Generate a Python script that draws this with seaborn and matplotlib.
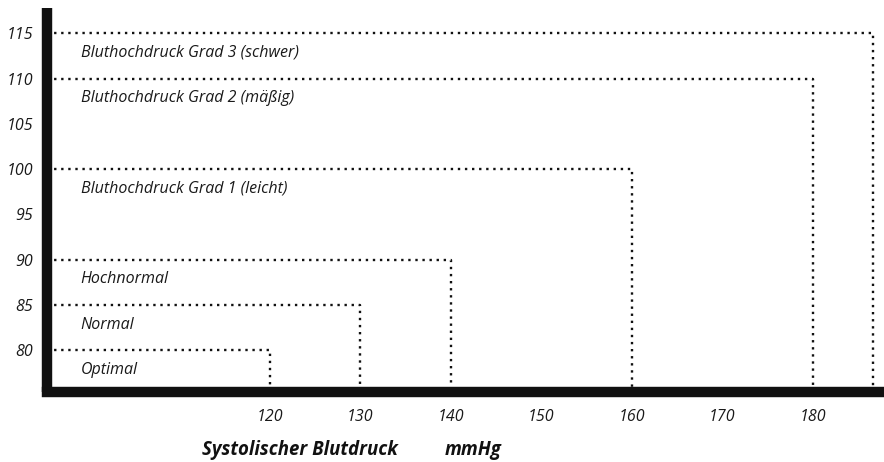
import matplotlib.pyplot as plt
import pandas as pd
import seaborn as sns

# Blood pressure categories (upper limits)
categories = ["Optimal", "Normal", "Hochnormal",
              "Bluthochdruck Grad 1 (leicht)",
              "Bluthochdruck Grad 2 (mäßig)",
              "Bluthochdruck Grad 3 (schwer)"]
systolic = [120, 130, 140, 160, 180, 186.7]
diastolic = [80, 85, 90, 100, 110, 115]
x_ticks = [120, 130, 140, 150, 160, 170, 180]
y_ticks = [80, 85, 90, 95, 100, 105, 110, 115]

x_lim = (95.4, 187.9)
y_lim = (75.4, 117.8)

sns.set_style("white")
plt.rcParams['font.family'] = ['Open Sans', 'DejaVu Sans']

# build step outlines: from left edge along the diastolic level, then down
rows = []
for cat, sx, dy in zip(categories, systolic, diastolic):
    rows.append({'cat': cat, 'order': 0, 'x': x_lim[0], 'y': dy})
    rows.append({'cat': cat, 'order': 1, 'x': sx, 'y': dy})
    rows.append({'cat': cat, 'order': 2, 'x': sx, 'y': y_lim[0]})
df = pd.DataFrame(rows)

fig = plt.figure(figsize=(8.84, 4.62), dpi=100)
ax = fig.add_axes([0.0532, 0.1515, 0.9468, 0.8312])

sns.lineplot(data=df, x='x', y='y', units='cat', estimator=None, sort=False,
             color='#111111', linewidth=1.7, dashes=False, ax=ax,
             linestyle=(0, (1, 2.0)))

for cat, dy in zip(categories, diastolic):
    ax.annotate(cat, xy=(99.1, dy), xytext=(0, -14), textcoords='offset points',
                va='center', ha='left', fontsize=11.5, style='italic', color='#1a1a1a')

ax.set_xlim(*x_lim)
ax.set_ylim(*y_lim)
ax.set_xticks(x_ticks)
ax.set_yticks(y_ticks)
ax.set_xticklabels([str(v) for v in x_ticks], style='italic', fontsize=11.5, color='#1a1a1a')
ax.set_yticklabels([str(v) for v in y_ticks], style='italic', fontsize=11.5, color='#1a1a1a')
ax.tick_params(axis='x', length=0, pad=12)
ax.tick_params(axis='y', length=0, pad=10)

sns.despine(ax=ax)
for side in ['left', 'bottom']:
    ax.spines[side].set_linewidth(7.5)
    ax.spines[side].set_color('#111111')
ax.spines['left'].set_capstyle('butt')
ax.spines['bottom'].set_capstyle('projecting')

ax.set_xlabel('')
ax.set_ylabel('')
fig.text(0.229, 0.026, 'Systolischer Blutdruck', fontsize=13.4, fontweight='bold',
         style='italic', color='#111111', ha='left', va='center')
fig.text(0.503, 0.026, 'mmHg', fontsize=13.4, fontweight='bold',
         style='italic', color='#111111', ha='left', va='center')

fig.savefig('out.png', dpi=100)
